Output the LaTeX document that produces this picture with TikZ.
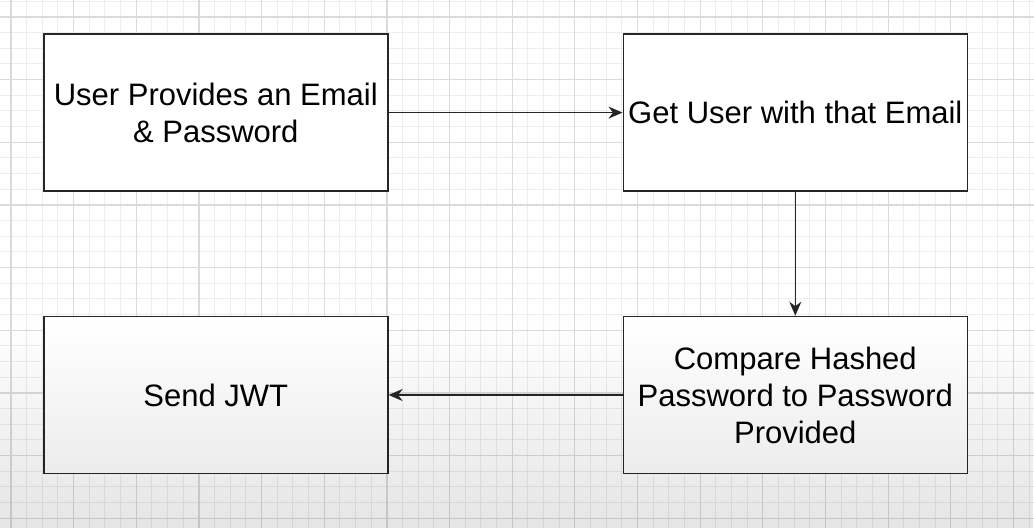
\documentclass[tikz,border=0pt]{standalone}
\usepackage{fontspec}
\setmainfont{Liberation Sans}
\usetikzlibrary{arrows.meta,fadings}
\definecolor{gridminor}{gray}{0.93}
\definecolor{gridmajor}{gray}{0.86}
\tikzset{
  stepbox/.style={draw=black!85, line width=1.6pt, fill=white, minimum width=344pt, minimum height=157pt, inner sep=0pt, align=center, font=\fontsize{31}{37}\selectfont, text=black, anchor=north west},
  flow/.style={draw=black!85, line width=1.5pt, -{Stealth[length=14pt,width=12pt,inset=4.5pt]}},
}
\begin{document}
\begin{tikzpicture}[x=1pt,y=-1pt]
\useasboundingbox (0,0) rectangle (1034,528);
\fill[white] (0,0) rectangle (1034,528);
% minor grid
\foreach \i in {0,...,65} {
  \draw[gridminor, line width=1pt] ({11+15.6625*\i},0) -- ({11+15.6625*\i},528);
}
\foreach \j in {0,...,34} {
  \draw[gridminor, line width=1pt] (0,{1.34+15.6625*\j}) -- (1034,{1.34+15.6625*\j});
}
% major grid
\foreach \i in {0,...,16} {
  \draw[gridmajor, line width=1.2pt] ({11+62.65*\i},0) -- ({11+62.65*\i},528);
}
\foreach \j in {0,...,8} {
  \draw[gridmajor, line width=1.2pt] (0,{17+62.65*\j}) -- (1034,{17+62.65*\j});
}
% boxes
\node[stepbox] (provide) at (43,33.3) {User Provides an Email\\\& Password};
\node[stepbox] (getuser) at (622.5,33.3) {Get User with that Email};
\node[stepbox] (compare) at (622.5,315.7) {Compare Hashed\\Password to Password\\Provided};
\node[stepbox] (sendjwt) at (43,315.7) {Send JWT};
% connectors
\draw[flow] (provide.east) -- (getuser.west);
\draw[flow] (getuser.south) -- (compare.north);
\draw[flow] (compare.west) -- (sendjwt.east);
% darkening toward the bottom
\fill[black, fill opacity=0.1, path fading=north] (0,320) rectangle (1034,528);
\end{tikzpicture}
\end{document}
